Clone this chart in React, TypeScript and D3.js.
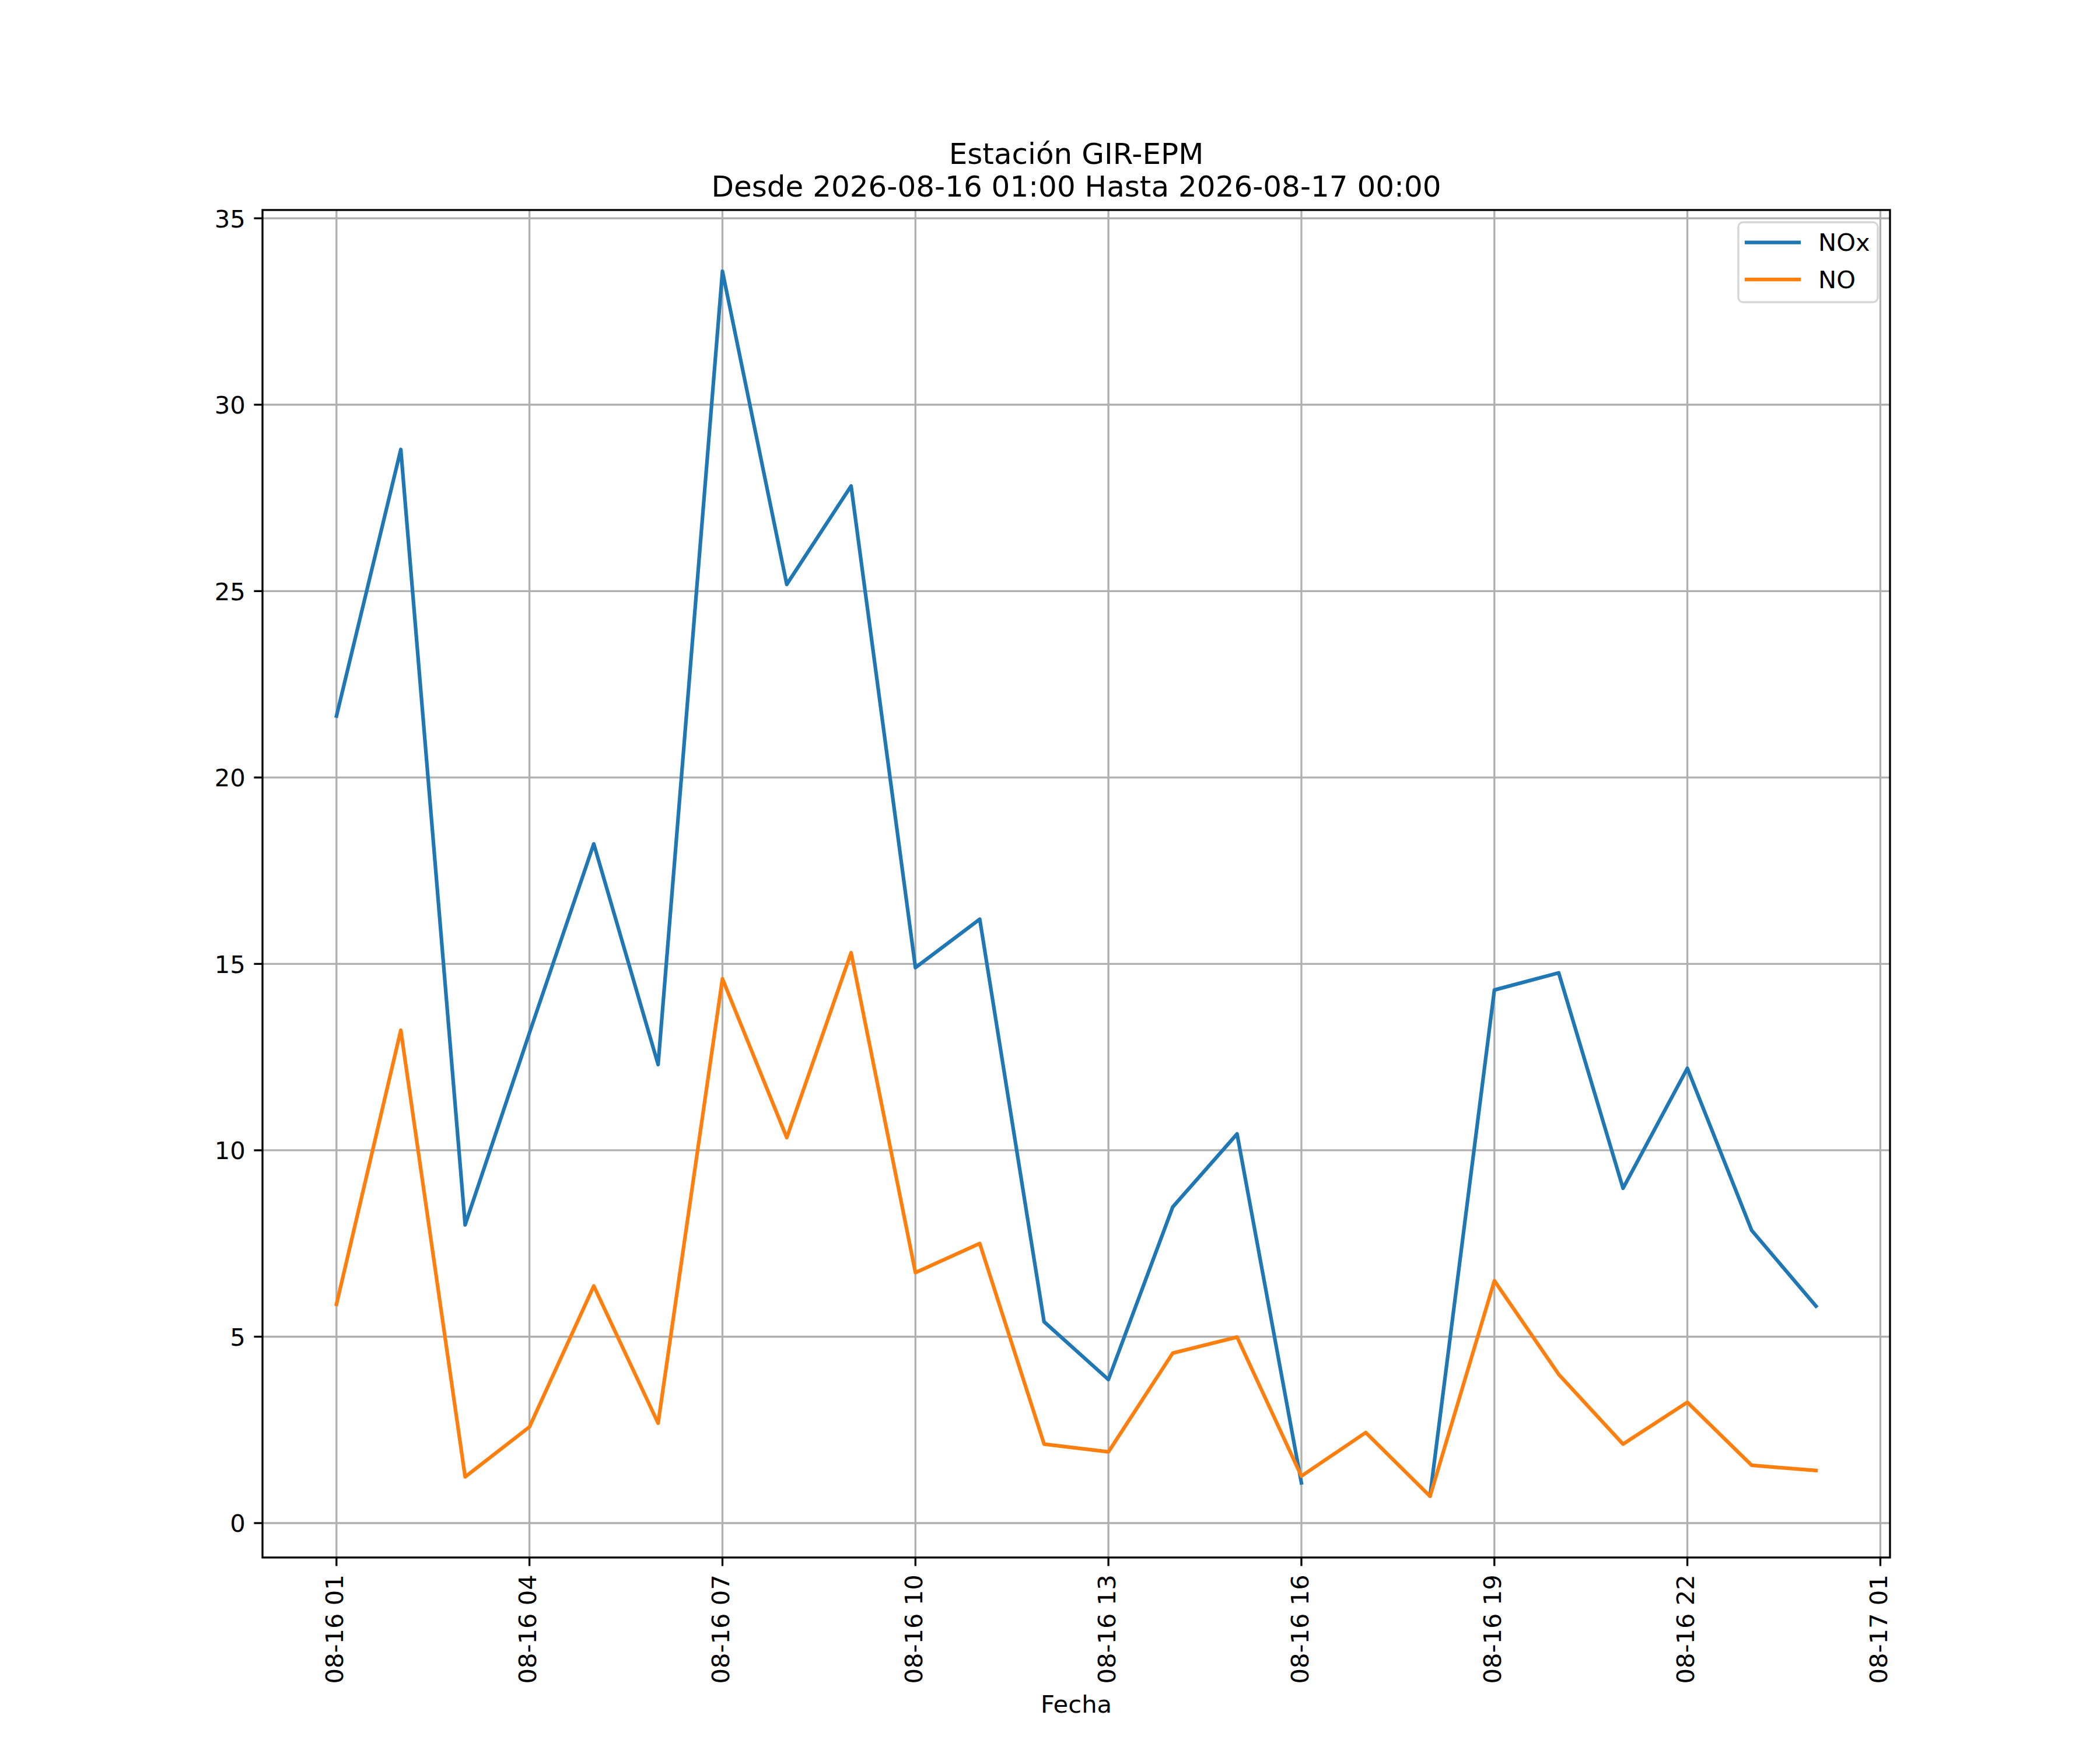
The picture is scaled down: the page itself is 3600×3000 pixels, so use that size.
import React, { useEffect } from 'react';
import * as d3 from 'd3';

// hourly readings, 2026-08-16 01:00 .. 2026-08-17 00:00 (UTC used as wall clock)
const startTime = '2026-08-16T01:00:00Z';
const endTime = '2026-08-17T00:00:00Z';

const noxValues: (number | null)[] = [
  21.65, 28.8, 8.0, 13.15, 18.22, 12.3, 33.58, 25.18, 27.82, 14.9, 16.2, 5.4,
  3.85, 8.48, 10.44, 1.08, null, 0.74, 14.3, 14.76, 8.98, 12.2, 7.85, 5.82,
];
const noValues: (number | null)[] = [
  5.87, 13.22, 1.24, 2.58, 6.36, 2.68, 14.6, 10.34, 15.3, 6.72, 7.5, 2.12,
  1.91, 4.56, 4.99, 1.26, 2.43, 0.72, 6.5, 3.99, 2.12, 3.24, 1.55, 1.41,
];

const seriesNames = ['NOx', 'NO'];
const seriesColors = ['#1f77b4', '#ff7f0e'];

const xTickLabels = [
  '2026-08-16T01:00:00Z', '2026-08-16T04:00:00Z', '2026-08-16T07:00:00Z',
  '2026-08-16T10:00:00Z', '2026-08-16T13:00:00Z', '2026-08-16T16:00:00Z',
  '2026-08-16T19:00:00Z', '2026-08-16T22:00:00Z', '2026-08-17T01:00:00Z',
];
const yTicks = [0, 5, 10, 15, 20, 25, 30, 35];

const titleLines = ['Estación GIR-EPM', 'Desde 2026-08-16 01:00 Hasta 2026-08-17 00:00'];
const xLabel = 'Fecha';

const W = 3600;
const H = 3000;
const margin = { left: 450, right: 3240, top: 360, bottom: 2670 };
const FONT = '"DejaVu Sans", sans-serif';
const fs = 41.67; // 10pt @ 300dpi
const tickLen = 14.6;
const thin = 3.33;

const App: React.FC = () => {
  useEffect(() => {
    document.body.style.margin = '0';
  }, []);

  const times = d3.utcHour.range(new Date(startTime), d3.utcHour.offset(new Date(endTime), 1));
  const t0 = times[0].getTime();
  const t1 = times[times.length - 1].getTime();
  const xPad = (t1 - t0) * 0.05;
  const x = d3
    .scaleUtc()
    .domain([new Date(t0 - xPad), new Date(t1 + xPad)])
    .range([margin.left, margin.right]);

  const allVals = [...noxValues, ...noValues].filter((v): v is number => v != null);
  const [vMin, vMax] = d3.extent(allVals) as [number, number];
  const yPad = (vMax - vMin) * 0.05;
  const y = d3
    .scaleLinear()
    .domain([vMin - yPad, vMax + yPad])
    .range([margin.bottom, margin.top]);

  const series = [noxValues, noValues].map((vals, i) => ({
    name: seriesNames[i],
    color: seriesColors[i],
    points: vals.map((v, j) => ({ t: times[j], v })),
  }));

  const line = d3
    .line<{ t: Date; v: number | null }>()
    .defined((d) => d.v != null)
    .x((d) => x(d.t))
    .y((d) => y(d.v as number));

  const fmt = d3.utcFormat('%m-%d %H');
  const xTicks = xTickLabels.map((s) => new Date(s));
  const cx = (margin.left + margin.right) / 2;

  const legend = { x0: 2980, y0: 381, x1: 3219, y1: 518 };

  return (
    <svg width={W} height={H} viewBox={`0 0 ${W} ${H}`} style={{ display: 'block', background: '#fff' }}>
      <rect x={0} y={0} width={W} height={H} fill="#fff" />
      <defs>
        <clipPath id="plot-area">
          <rect x={margin.left} y={margin.top} width={margin.right - margin.left} height={margin.bottom - margin.top} />
        </clipPath>
      </defs>

      {/* grid */}
      <g stroke="#b0b0b0" strokeWidth={thin}>
        {xTicks.map((t) => (
          <line key={t.toISOString()} x1={x(t)} x2={x(t)} y1={margin.top} y2={margin.bottom} />
        ))}
        {yTicks.map((v) => (
          <line key={v} x1={margin.left} x2={margin.right} y1={y(v)} y2={y(v)} />
        ))}
      </g>

      {/* lines */}
      <g clipPath="url(#plot-area)">
        {series.map((s) => (
          <path
            key={s.name}
            d={line(s.points) || ''}
            fill="none"
            stroke={s.color}
            strokeWidth={6.25}
            strokeLinejoin="round"
            strokeLinecap="square"
          />
        ))}
      </g>

      {/* spines */}
      <rect
        x={margin.left}
        y={margin.top}
        width={margin.right - margin.left}
        height={margin.bottom - margin.top}
        fill="none"
        stroke="#000"
        strokeWidth={thin}
      />

      {/* x ticks */}
      <g fontFamily={FONT} fontSize={fs} fill="#000">
        {xTicks.map((t) => (
          <g key={t.toISOString()}>
            <line x1={x(t)} x2={x(t)} y1={margin.bottom} y2={margin.bottom + tickLen} stroke="#000" strokeWidth={thin} />
            <text
              transform={`translate(${x(t)},${margin.bottom + 2 * tickLen}) rotate(-90)`}
              textAnchor="end"
              dy="0.28em"
            >
              {fmt(t)}
            </text>
          </g>
        ))}
      </g>

      {/* y ticks */}
      <g fontFamily={FONT} fontSize={fs} fill="#000">
        {yTicks.map((v) => (
          <g key={v}>
            <line x1={margin.left - tickLen} x2={margin.left} y1={y(v)} y2={y(v)} stroke="#000" strokeWidth={thin} />
            <text x={margin.left - 2 * tickLen} y={y(v)} dy="0.37em" textAnchor="end">
              {v}
            </text>
          </g>
        ))}
      </g>

      {/* title */}
      <g fontFamily={FONT} fontSize={50} fill="#000" textAnchor="middle">
        <text x={cx} y={280.7}>{titleLines[0]}</text>
        <text x={cx} y={336.7}>{titleLines[1]}</text>
      </g>

      {/* x label */}
      <text x={cx} y={2936} fontFamily={FONT} fontSize={fs} textAnchor="middle" fill="#000">
        {xLabel}
      </text>

      {/* legend */}
      <g fontFamily={FONT} fontSize={fs}>
        <rect
          x={legend.x0}
          y={legend.y0}
          width={legend.x1 - legend.x0}
          height={legend.y1 - legend.y0}
          rx={8}
          ry={8}
          fill="#fff"
          fillOpacity={0.8}
          stroke="#cccccc"
          strokeOpacity={0.8}
          strokeWidth={thin}
        />
        {series.map((s, i) => {
          const ly = 415.7 + i * 63.3;
          return (
            <g key={s.name}>
              <line x1={2994} x2={3084} y1={ly} y2={ly} stroke={s.color} strokeWidth={6.25} strokeLinecap="square" />
              <text x={3117} y={ly + 14.6} fill="#000">
                {s.name}
              </text>
            </g>
          );
        })}
      </g>
    </svg>
  );
};

export default App;
